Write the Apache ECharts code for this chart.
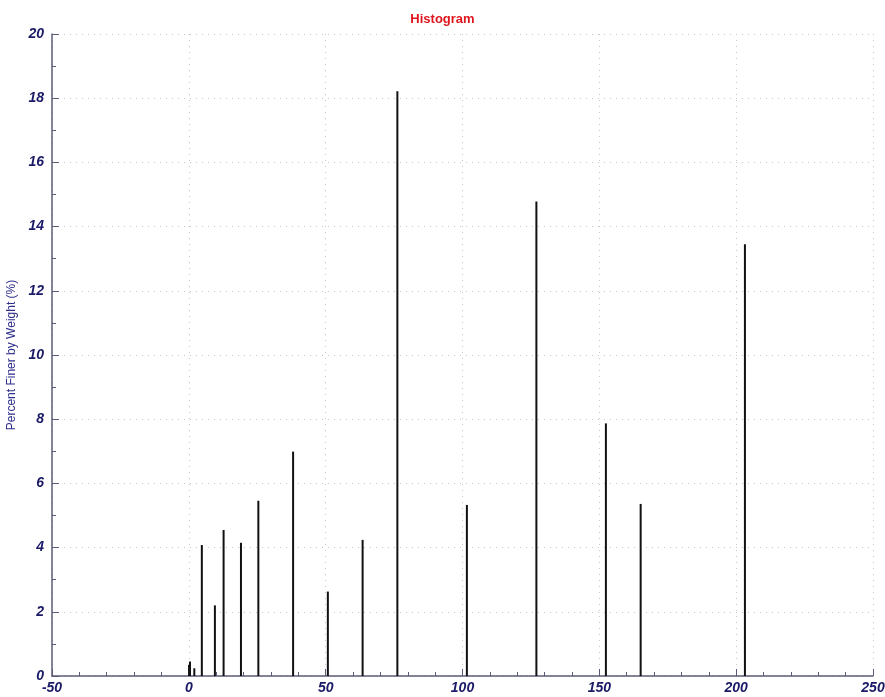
<!DOCTYPE html>
<html>
<head>
<meta charset="utf-8">
<script src="https://cdn.jsdelivr.net/npm/echarts@6/dist/echarts.min.js"></script>
<style>html,body{margin:0;padding:0;background:#fff;}#c{width:885px;height:697px;}</style>
</head>
<body>
<div id="c"></div>
<script>
const sizes = [0.075, 0.425, 2.0, 4.75, 9.525, 12.7, 19.05, 25.4, 38.1, 50.8, 63.5, 76.2, 101.6, 127, 152.4, 165.1, 203.2];
const percents = [0.35, 0.45, 0.24, 4.08, 2.2, 4.55, 4.15, 5.46, 6.99, 2.63, 4.24, 18.22, 5.33, 14.78, 7.87, 5.36, 13.45];
const xTicks = [-50, 0, 50, 100, 150, 200, 250];
const yTicks = [0, 2, 4, 6, 8, 10, 12, 14, 16, 18, 20];

const axisColor = '#5c5c78';
const labelColor = '#1a1a66';
const labelStyle = {color: labelColor, fontStyle: 'italic', fontWeight: 'bold', fontSize: 14, fontFamily: 'Liberation Sans, Arial, sans-serif'};
const chart = echarts.init(document.getElementById('c'));
chart.setOption({
  animation: false,
  title: {text: 'Histogram', left: 'center', top: 8, textStyle: {color: '#e0161e', fontSize: 13, fontWeight: 'bold', fontFamily: 'Liberation Sans, Arial, sans-serif'}},
  grid: {left: 52, right: 12, top: 34, bottom: 21, containLabel: false, outerBoundsMode: 'none'},
  xAxis: {
    type: 'value', min: xTicks[0], max: xTicks[xTicks.length - 1], interval: 50,
    axisLine: {show: true, onZero: false, lineStyle: {color: axisColor, width: 1.5}},
    axisTick: {show: true, inside: true, length: 7, lineStyle: {color: axisColor}},
    minorTick: {show: true, splitNumber: 5, length: 4, lineStyle: {color: axisColor}},
    splitLine: {show: true, lineStyle: {color: '#c8c8c8', type: [1, 5], width: 1}},
    axisLabel: Object.assign({margin: 5, formatter: v => xTicks.includes(v) ? String(v) : ''}, labelStyle)
  },
  yAxis: {
    type: 'value', min: yTicks[0], max: yTicks[yTicks.length - 1], interval: 2,
    name: 'Percent Finer by Weight (%)', nameLocation: 'middle', nameGap: 34, nameRotate: 90,
    nameMoveOverlap: false,
    nameTextStyle: {color: '#2d2d8c', fontSize: 12, fontFamily: 'Liberation Sans, Arial, sans-serif'},
    axisLine: {show: true, onZero: false, lineStyle: {color: axisColor, width: 1.5}},
    axisTick: {show: true, inside: true, length: 7, lineStyle: {color: axisColor}},
    minorTick: {show: true, splitNumber: 2, length: 4, lineStyle: {color: axisColor}},
    splitLine: {show: true, lineStyle: {color: '#c8c8c8', type: [1, 5], width: 1}},
    axisLabel: Object.assign({margin: 8, formatter: v => yTicks.includes(v) ? String(v) : ''}, labelStyle)
  },
  series: [{
    type: 'bar',
    barWidth: 2,
    barGap: '-100%',
    itemStyle: {color: '#111111'},
    data: sizes.map((s, i) => [s, percents[i]])
  }]
});
</script>
</body>
</html>
